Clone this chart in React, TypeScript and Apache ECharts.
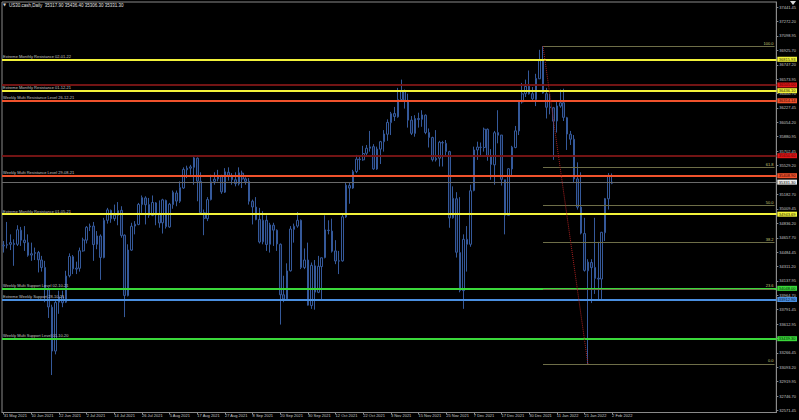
import React, { useEffect, useRef } from "react";
import * as echarts from "echarts";

// [date, open, high, low, close]
type Row = [string, number, number, number, number];

const may2021: Row[] = [["31 May 2021", 34560, 34620, 34480, 34570]];
const jun2021: Row[] = [
  ["1 Jun 2021", 34570, 34850, 34530, 34575],
  ["2 Jun 2021", 34580, 34700, 34510, 34600],
  ["3 Jun 2021", 34590, 34640, 34320, 34577],
  ["4 Jun 2021", 34580, 34810, 34560, 34756],
  ["7 Jun 2021", 34750, 34790, 34560, 34630],
  ["8 Jun 2021", 34630, 34800, 34500, 34600],
  ["9 Jun 2021", 34600, 34700, 34430, 34447],
  ["10 Jun 2021", 34450, 34600, 34380, 34466],
  ["11 Jun 2021", 34470, 34540, 34390, 34480],
  ["14 Jun 2021", 34480, 34500, 34240, 34393],
  ["15 Jun 2021", 34390, 34440, 34250, 34299],
  ["16 Jun 2021", 34300, 34380, 33880, 34033],
  ["17 Jun 2021", 34030, 34060, 33690, 33823],
  ["18 Jun 2021", 33820, 33850, 33000, 33290],
  ["21 Jun 2021", 33290, 33900, 33250, 33876],
  ["22 Jun 2021", 33880, 34020, 33740, 33945],
  ["23 Jun 2021", 33950, 34020, 33820, 33874],
  ["24 Jun 2021", 33880, 34260, 33870, 34196],
  ["25 Jun 2021", 34200, 34470, 34180, 34433],
  ["28 Jun 2021", 34430, 34450, 34220, 34283],
  ["29 Jun 2021", 34280, 34370, 34220, 34292],
  ["30 Jun 2021", 34290, 34540, 34250, 34502],
];
const jul2021: Row[] = [
  ["1 Jul 2021", 34500, 34660, 34490, 34633],
  ["2 Jul 2021", 34630, 34800, 34590, 34786],
  ["5 Jul 2021", 34790, 34830, 34740, 34800],
  ["6 Jul 2021", 34800, 34850, 34380, 34577],
  ["7 Jul 2021", 34580, 34740, 34520, 34681],
  ["8 Jul 2021", 34680, 34700, 34150, 34421],
  ["9 Jul 2021", 34420, 34900, 34410, 34870],
  ["12 Jul 2021", 34870, 35020, 34830, 34996],
  ["13 Jul 2021", 34990, 35000, 34840, 34889],
  ["14 Jul 2021", 34890, 35060, 34860, 34933],
  ["15 Jul 2021", 34930, 35090, 34810, 34987],
  ["16 Jul 2021", 34990, 35040, 34660, 34687],
  ["19 Jul 2021", 34690, 34700, 33700, 33962],
  ["20 Jul 2021", 33960, 34580, 33950, 34511],
  ["21 Jul 2021", 34510, 34840, 34500, 34798],
  ["22 Jul 2021", 34800, 34860, 34700, 34823],
  ["23 Jul 2021", 34820, 35080, 34810, 35062],
  ["26 Jul 2021", 35060, 35170, 34960, 35144],
  ["27 Jul 2021", 35140, 35160, 34820, 35058],
  ["28 Jul 2021", 35060, 35140, 34900, 34931],
  ["29 Jul 2021", 34930, 35170, 34920, 35085],
  ["30 Jul 2021", 35080, 35090, 34810, 34935],
];
const aug2021: Row[] = [
  ["2 Aug 2021", 34940, 35110, 34780, 34838],
  ["3 Aug 2021", 34840, 35130, 34710, 35117],
  ["4 Aug 2021", 35110, 35120, 34770, 34793],
  ["5 Aug 2021", 34790, 35080, 34780, 35065],
  ["6 Aug 2021", 35060, 35230, 35010, 35209],
  ["9 Aug 2021", 35200, 35230, 35040, 35102],
  ["10 Aug 2021", 35100, 35340, 35080, 35265],
  ["11 Aug 2021", 35260, 35510, 35250, 35485],
  ["12 Aug 2021", 35480, 35530, 35380, 35500],
  ["13 Aug 2021", 35500, 35540, 35420, 35516],
  ["16 Aug 2021", 35510, 35640, 35300, 35625],
  ["17 Aug 2021", 35620, 35630, 35100, 35343],
  ["18 Aug 2021", 35340, 35450, 34950, 34961],
  ["19 Aug 2021", 34960, 35000, 34690, 34894],
  ["20 Aug 2021", 34890, 35150, 34860, 35120],
  ["23 Aug 2021", 35120, 35420, 35110, 35336],
  ["24 Aug 2021", 35340, 35450, 35300, 35367],
  ["25 Aug 2021", 35370, 35480, 35340, 35406],
  ["26 Aug 2021", 35400, 35420, 35190, 35214],
  ["27 Aug 2021", 35210, 35500, 35200, 35456],
  ["30 Aug 2021", 35450, 35510, 35350, 35400],
  ["31 Aug 2021", 35400, 35440, 35300, 35361],
];
const sep2021: Row[] = [
  ["1 Sep 2021", 35360, 35450, 35280, 35313],
  ["2 Sep 2021", 35310, 35510, 35290, 35444],
  ["3 Sep 2021", 35440, 35470, 35260, 35369],
  ["6 Sep 2021", 35370, 35390, 35300, 35340],
  ["7 Sep 2021", 35340, 35380, 35060, 35100],
  ["8 Sep 2021", 35100, 35120, 34820, 35031],
  ["9 Sep 2021", 35030, 35150, 34870, 34879],
  ["10 Sep 2021", 34880, 35020, 34590, 34608],
  ["13 Sep 2021", 34610, 34980, 34580, 34870],
  ["14 Sep 2021", 34870, 34930, 34500, 34578],
  ["15 Sep 2021", 34580, 34840, 34480, 34814],
  ["16 Sep 2021", 34810, 34840, 34560, 34751],
  ["17 Sep 2021", 34750, 34760, 34500, 34584],
  ["20 Sep 2021", 34580, 34590, 33610, 33970],
  ["21 Sep 2021", 33970, 34200, 33880, 33919],
  ["22 Sep 2021", 33920, 34350, 33900, 34258],
  ["23 Sep 2021", 34260, 34800, 34250, 34765],
  ["24 Sep 2021", 34760, 34830, 34600, 34798],
  ["27 Sep 2021", 34800, 34970, 34780, 34870],
  ["28 Sep 2021", 34870, 34880, 34280, 34300],
  ["29 Sep 2021", 34300, 34530, 34280, 34390],
  ["30 Sep 2021", 34390, 34600, 33840, 33844],
];
const oct2021: Row[] = [
  ["1 Oct 2021", 33840, 34360, 33800, 34326],
  ["4 Oct 2021", 34320, 34390, 33790, 34002],
  ["5 Oct 2021", 34000, 34440, 33990, 34314],
  ["6 Oct 2021", 34310, 34420, 33900, 34417],
  ["7 Oct 2021", 34420, 34930, 34410, 34755],
  ["8 Oct 2021", 34750, 34870, 34700, 34746],
  ["11 Oct 2021", 34740, 34890, 34480, 34496],
  ["12 Oct 2021", 34500, 34630, 34340, 34378],
  ["13 Oct 2021", 34380, 34500, 34220, 34377],
  ["14 Oct 2021", 34380, 34950, 34370, 34912],
  ["15 Oct 2021", 34910, 35320, 34900, 35295],
  ["18 Oct 2021", 35290, 35320, 35070, 35259],
  ["19 Oct 2021", 35260, 35480, 35250, 35458],
  ["20 Oct 2021", 35460, 35660, 35440, 35609],
  ["21 Oct 2021", 35610, 35640, 35480, 35603],
  ["22 Oct 2021", 35600, 35770, 35590, 35677],
  ["25 Oct 2021", 35680, 35780, 35640, 35741],
  ["26 Oct 2021", 35740, 35950, 35700, 35757],
  ["27 Oct 2021", 35760, 35790, 35480, 35491],
  ["28 Oct 2021", 35490, 35760, 35480, 35731],
  ["29 Oct 2021", 35730, 35830, 35550, 35820],
];
const nov2021: Row[] = [
  ["1 Nov 2021", 35820, 35960, 35700, 35913],
  ["2 Nov 2021", 35910, 36090, 35830, 36053],
  ["3 Nov 2021", 36050, 36180, 35900, 36158],
  ["4 Nov 2021", 36160, 36240, 36070, 36124],
  ["5 Nov 2021", 36120, 36470, 36110, 36328],
  ["8 Nov 2021", 36330, 36570, 36320, 36432],
  ["9 Nov 2021", 36430, 36450, 36220, 36320],
  ["10 Nov 2021", 36320, 36400, 35990, 36080],
  ["11 Nov 2021", 36080, 36130, 35900, 35921],
  ["12 Nov 2021", 35920, 36140, 35880, 36100],
  ["15 Nov 2021", 36100, 36170, 35990, 36087],
  ["16 Nov 2021", 36090, 36200, 36000, 36143],
  ["17 Nov 2021", 36140, 36150, 35910, 35931],
  ["18 Nov 2021", 35930, 35980, 35750, 35871],
  ["19 Nov 2021", 35870, 35880, 35580, 35602],
  ["22 Nov 2021", 35600, 35960, 35580, 35619],
  ["23 Nov 2021", 35620, 35830, 35520, 35814],
  ["24 Nov 2021", 35810, 35830, 35520, 35804],
  ["25 Nov 2021", 35800, 35840, 35650, 35700],
  ["26 Nov 2021", 35700, 35710, 34780, 34899],
  ["29 Nov 2021", 34900, 35280, 34890, 35136],
  ["30 Nov 2021", 35130, 35210, 34420, 34484],
];
const dec2021: Row[] = [
  ["1 Dec 2021", 34480, 35150, 34000, 34022],
  ["2 Dec 2021", 34020, 34700, 33800, 34640],
  ["3 Dec 2021", 34640, 34800, 34250, 34580],
  ["6 Dec 2021", 34580, 35300, 34550, 35227],
  ["7 Dec 2021", 35230, 35760, 35220, 35720],
  ["8 Dec 2021", 35720, 35820, 35600, 35755],
  ["9 Dec 2021", 35750, 35810, 35640, 35754],
  ["10 Dec 2021", 35750, 35990, 35700, 35971],
  ["13 Dec 2021", 35970, 35980, 35590, 35650],
  ["14 Dec 2021", 35650, 35730, 35360, 35545],
  ["15 Dec 2021", 35540, 35950, 35300, 35928],
  ["16 Dec 2021", 35930, 36200, 35800, 35898],
  ["17 Dec 2021", 35900, 35900, 35290, 35365],
  ["20 Dec 2021", 35360, 35360, 34700, 34932],
  ["21 Dec 2021", 34930, 35500, 34930, 35493],
  ["22 Dec 2021", 35490, 35770, 35410, 35754],
  ["23 Dec 2021", 35750, 36010, 35740, 35951],
  ["27 Dec 2021", 35950, 36310, 35900, 36302],
  ["28 Dec 2021", 36300, 36530, 36280, 36398],
  ["29 Dec 2021", 36400, 36570, 36360, 36488],
  ["30 Dec 2021", 36490, 36680, 36390, 36398],
  ["31 Dec 2021", 36400, 36480, 36300, 36338],
];
const jan2022: Row[] = [
  ["3 Jan 2022", 36330, 36640, 36250, 36585],
  ["4 Jan 2022", 36580, 36930, 36580, 36800],
  ["5 Jan 2022", 36800, 36975, 36400, 36408],
  ["6 Jan 2022", 36400, 36470, 36100, 36236],
  ["7 Jan 2022", 36240, 36400, 36150, 36231],
  ["10 Jan 2022", 36230, 36240, 35600, 36068],
  ["11 Jan 2022", 36070, 36300, 35930, 36252],
  ["12 Jan 2022", 36250, 36450, 36230, 36290],
  ["13 Jan 2022", 36290, 36460, 36070, 36114],
  ["14 Jan 2022", 36110, 36120, 35720, 35912],
  ["17 Jan 2022", 35910, 35950, 35780, 35850],
  ["18 Jan 2022", 35850, 35900, 35320, 35369],
  ["19 Jan 2022", 35370, 35570, 35000, 35029],
  ["20 Jan 2022", 35030, 35450, 34700, 34715],
  ["21 Jan 2022", 34710, 34900, 34250, 34265],
  ["24 Jan 2022", 34260, 34400, 33133.5, 34365],
  ["25 Jan 2022", 34360, 34400, 33870, 34298],
  ["26 Jan 2022", 34300, 34900, 33980, 34168],
  ["27 Jan 2022", 34170, 34610, 33900, 34160],
  ["28 Jan 2022", 34160, 34730, 33920, 34725],
  ["31 Jan 2022", 34720, 35140, 34620, 35132],
];
const feb2022: Row[] = [
  ["1 Feb 2022", 35130, 35440, 35000, 35405],
  ["2 Feb 2022", 35317.9, 35436.4, 35306.3, 35331.3],
];

const headerText = "US30.cash,Daily  35317.90 35436.40 35306.30 35331.30";
const currentPrice = 35331.3;

const priceTicks = [
  37441.45, 37272.2, 37098.95, 36925.7, 36747.2, 36573.95, 36400.7, 36227.45,
  36054.2, 35880.95, 35702.45, 35529.2, 35182.7, 35009.45, 34836.2,
  34657.7, 34484.45, 34311.2, 34137.95, 33964.7, 33791.45, 33612.95, 33439.7,
  33266.45, 33093.2, 32919.95, 32746.7, 32571.45,
];

const levelNames = [
  "Extreme Monthly Resistance 02-01-22",
  "",
  "Extreme Monthly Resistance 01-12-21",
  "Weekly Multi Resistance Level 26-12-21",
  "",
  "Weekly Multi Resistance Level 29-08-21",
  "Extreme Monthly Resistance 01-05-21",
  "Weekly Multi Support Level 02-10-21",
  "Extreme Weekly Support 28-10-21",
  "Weekly Multi Support Level 01-10-20",
];
const levelPrices = [
  36815.93, 36505.0, 36436.1, 36314.14, 35650.6, 35408.9, 34943.69, 34048.0,
  33912.9, 33439.3,
];
const levelKinds = [
  "extremeMonthly", "pivotRed", "extremeMonthly", "weeklyRes", "pivotRed",
  "weeklyRes", "extremeMonthly", "weeklySup", "extremeWeekly", "weeklySup",
];

const fibRatios = [0, 23.6, 38.2, 50, 61.8, 100];
const fibHigh = 36975.0;
const fibLow = 33133.5;
const fibHighDate = "5 Jan 2022";
const fibLowDate = "24 Jan 2022";

const emptySlots = 47;

const STYLES: Record<string, { line: string; width: number; box: string; text: string }> = {
  extremeMonthly: { line: "#f2f23a", width: 2, box: "#f2f23a", text: "#202000" },
  pivotRed: { line: "#7a1616", width: 1.5, box: "#e01818", text: "#500000" },
  weeklyRes: { line: "#f0522c", width: 2, box: "#f0522c", text: "#300000" },
  weeklySup: { line: "#3ad83a", width: 2, box: "#3ad83a", text: "#002000" },
  extremeWeekly: { line: "#4a8fe0", width: 2, box: "#4a8fe0", text: "#001030" },
};

const FONT = "Liberation Sans, Arial, sans-serif";

export default function App() {
  const ref = useRef<HTMLDivElement>(null);

  useEffect(() => {
    if (!ref.current) return;
    const chart = echarts.init(ref.current, undefined, { renderer: "svg" });

    const rows: Row[] = [
      ...may2021, ...jun2021, ...jul2021, ...aug2021, ...sep2021,
      ...oct2021, ...nov2021, ...dec2021, ...jan2022, ...feb2022,
    ];
    const dates = rows.map((r) => r[0]);
    const categories = [...dates, ...Array.from({ length: emptySlots }, () => "")];
    const candleData = rows.map((r) => [r[1], r[4], r[3], r[2]]);
    const lastIdx = categories.length - 1;
    const fibStart = dates.indexOf(fibHighDate);
    const fibEnd = dates.indexOf(fibLowDate);

    const boxLabel = (text: string, bg: string, fg: string) => ({
      show: true,
      position: "end",
      distance: 1,
      formatter: text,
      color: fg,
      backgroundColor: bg,
      padding: [0.8, 1.5, 0.2, 1.5],
      fontSize: 4,
      lineHeight: 4,
      fontFamily: FONT,
    });

    const markData: any[] = [];
    levelPrices.forEach((p, i) => {
      const s = STYLES[levelKinds[i]];
      markData.push({
        yAxis: p,
        lineStyle: { color: s.line, width: s.width, type: "solid" },
        label: {
          show: !!levelNames[i],
          position: "insideStartTop",
          formatter: levelNames[i],
          color: "#c4c4c4",
          fontSize: 4,
          fontFamily: FONT,
          distance: [1, 1],
        },
      });
      markData.push({
        yAxis: p,
        lineStyle: { color: s.line, width: s.width, type: "solid" },
        label: boxLabel(p.toFixed(2), s.box, s.text),
      });
    });
    // current price line
    markData.push({
      yAxis: currentPrice,
      lineStyle: { color: "#6a6a6a", width: 1, type: "solid" },
      label: boxLabel(currentPrice.toFixed(2), "#ececec", "#000000"),
    });
    // fibonacci levels
    fibRatios.forEach((r) => {
      const v = fibLow + ((fibHigh - fibLow) * r) / 100;
      markData.push([
        {
          coord: [fibStart, v],
          lineStyle: { color: "#6e6e48", width: 1, type: "solid" },
          label: {
            show: true,
            position: "insideEndTop",
            formatter: r.toFixed(1),
            color: "#c8c878",
            fontSize: 4,
            fontFamily: FONT,
            distance: [1, 1],
          },
        },
        { coord: [lastIdx, v] },
      ]);
    });
    // fibonacci trend line
    markData.push([
      {
        coord: [fibStart, fibHigh],
        lineStyle: { color: "#a82020", width: 1, type: "dotted" },
        label: { show: false },
      },
      { coord: [fibEnd, fibLow] },
    ]);

    chart.setOption({
      animation: false,
      backgroundColor: "#000000",
      grid: {
        left: 2,
        right: 22,
        top: 2,
        bottom: 7.5,
        show: true,
        borderColor: "#8a8a8a",
        borderWidth: 1,
        backgroundColor: "transparent",
      },
      xAxis: {
        type: "category",
        data: categories,
        boundaryGap: true,
        axisLine: { show: true, lineStyle: { color: "#8a8a8a", width: 1 } },
        axisTick: {
          show: true,
          alignWithLabel: true,
          length: 2,
          interval: (i: number) => i % 8 === 0 && i < dates.length,
          lineStyle: { color: "#8a8a8a" },
        },
        axisLabel: {
          show: true,
          interval: (i: number) => i % 8 === 0 && i < dates.length,
          align: "left",
          margin: 0.5,
          fontSize: 4,
          color: "#c8c8c8",
          fontFamily: FONT,
        },
        splitLine: { show: false },
      },
      yAxis: {
        type: "value",
        position: "right",
        min: 32547.4,
        max: 37507.9,
        scale: true,
        axisLine: { show: true, lineStyle: { color: "#8a8a8a", width: 1 } },
        axisTick: {
          show: true,
          length: 2,
          customValues: priceTicks,
          lineStyle: { color: "#8a8a8a" },
        },
        axisLabel: {
          show: true,
          customValues: priceTicks,
          formatter: (v: number) => v.toFixed(2),
          margin: 3,
          fontSize: 4,
          color: "#c8c8c8",
          fontFamily: FONT,
        },
        splitLine: { show: false },
      },
      graphic: [
        {
          type: "text",
          left: 3,
          top: 2.5,
          style: { text: "▼", fill: "#d0d0d0", fontSize: 4, fontFamily: "DejaVu Sans" },
        },
        {
          type: "text",
          left: 9,
          top: 2.5,
          style: { text: headerText, fill: "#e0e0e0", fontSize: 4.5, fontFamily: FONT },
        },
        {
          type: "polygon",
          shape: { points: [[790, 1], [796, 1], [793, 5]] },
          style: { fill: "#d8d8d8" },
        },
      ],
      series: [
        {
          type: "candlestick",
          data: candleData,
          barWidth: "60%",
          itemStyle: {
            color: "#000000",
            color0: "#0b1630",
            borderColor: "#35599a",
            borderColor0: "#35599a",
            borderWidth: 1,
          },
          silent: true,
          z: 3,
        },
        {
          type: "line",
          data: [],
          clip: false,
          silent: true,
          z: 4,
          markLine: {
            silent: true,
            symbol: ["none", "none"],
            animation: false,
            data: markData,
          },
        },
      ],
    });

    return () => chart.dispose();
  }, []);

  return <div ref={ref} style={{ width: 799, height: 420, position: "absolute", left: 0, top: 0 }} />;
}
